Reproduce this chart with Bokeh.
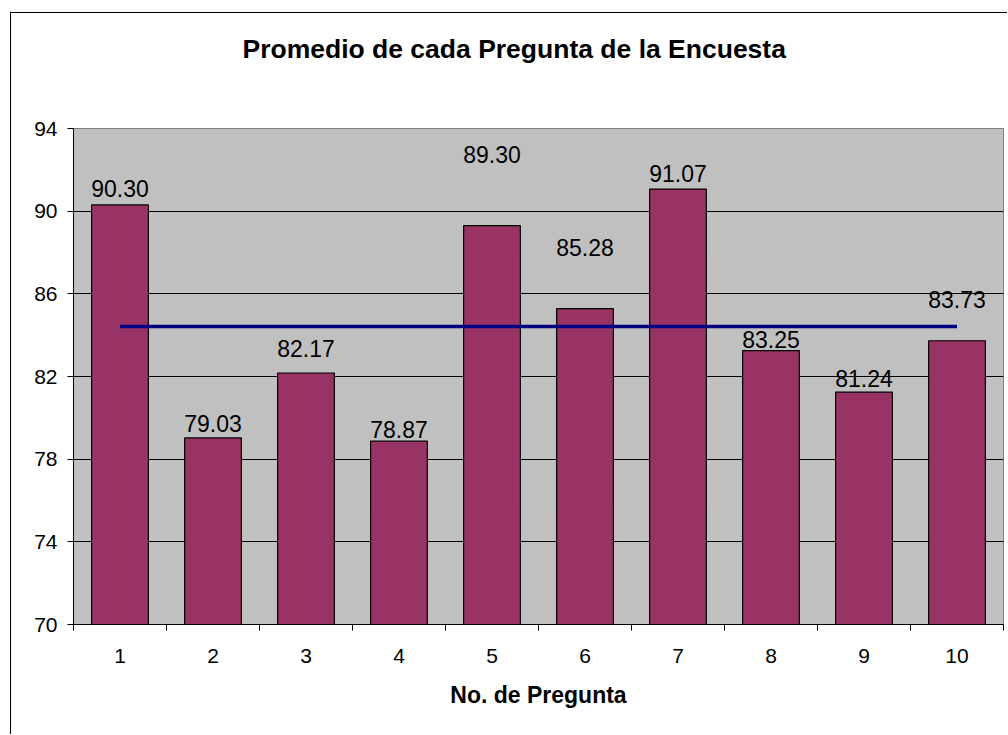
from bokeh.plotting import figure
from bokeh.models import ColumnDataSource, FixedTicker, Range1d, LinearAxis
from bokeh.embed import file_html
from bokeh.resources import INLINE
from bokeh.core.properties import value

# ---- data ----
preguntas = [1, 2, 3, 4, 5, 6, 7, 8, 9, 10]
promedios = [90.30, 79.03, 82.17, 78.87, 89.30, 85.28, 91.07, 83.25, 81.24, 83.73]
promedio_general = 84.42
y_ticks = [70, 74, 78, 82, 86, 90, 94]

titulo = "Promedio de cada Pregunta de la Encuesta"
eje_x = "No. de Pregunta"

# ---- style: pixel offsets of the value labels (moved by hand in the original) ----
label_offsets = [-16, -14, -24, -12, -71, -61, -16, -11, -14, -41]

FONT = "Liberation Sans"

src = ColumnDataSource(dict(
    x=preguntas,
    y=promedios,
    lbl=["%.2f" % v for v in promedios],
    yoff=label_offsets,
))

p = figure(
    width=997, height=722,
    x_range=Range1d(0.5, 10.5), y_range=Range1d(70, 94),
    output_backend="svg", toolbar_location=None, tools="",
    min_border_left=62, min_border_right=5, min_border_top=115, min_border_bottom=111,
)
p.styles = {"margin-left": "10px", "margin-top": "12px",
            "border-left": "1px solid black", "border-top": "1px solid black"}

p.background_fill_color = "#C0C0C0"
p.border_fill_color = "white"
p.outline_line_color = "#808080"
p.outline_line_width = 1

# invisible spacer between the frame and the title
spacer = LinearAxis(ticker=FixedTicker(ticks=[preguntas[4]]), axis_line_color=None,
                    major_tick_out=65, major_tick_in=0, major_tick_line_color=None,
                    minor_tick_out=0, minor_tick_in=0, minor_tick_line_color=None,
                    major_label_overrides={preguntas[4]: ""},
                    major_label_standoff=0)
p.add_layout(spacer, "above")

# title
p.title.text = titulo
p.title.text_font = FONT
p.title.text_font_size = "26.5px"
p.title.text_font_style = "bold"
p.title.text_color = "black"
p.title.align = "left"
p.title.offset = 169
p.title.standoff = 0

# grid
p.xgrid.visible = False
p.ygrid.ticker = FixedTicker(ticks=y_ticks[1:-1])
p.ygrid.grid_line_color = "black"
p.ygrid.grid_line_width = 1

# bars
p.vbar(x="x", top="y", bottom=70, width=0.61, source=src,
       fill_color="#993366", line_color="black", line_width=1.2)

# average line
p.line(x=[preguntas[0], preguntas[-1]], y=[promedio_general, promedio_general],
       line_color="#000080", line_width=3.5)

# value labels
p.text(x="x", y="y", text="lbl", y_offset="yoff", source=src,
       text_font=value(FONT), text_font_size="23px", text_color="black",
       text_align="center", text_baseline="alphabetic")

# x axis
xa = p.below[0]
xa.ticker = FixedTicker(ticks=preguntas,
                        minor_ticks=[q - 0.5 for q in preguntas] + [preguntas[-1] + 0.5])
xa.major_tick_out = 0
xa.major_tick_in = 0
xa.minor_tick_out = 6
xa.minor_tick_in = 0
xa.minor_tick_line_color = "black"
xa.axis_line_color = "black"
xa.major_label_text_font = FONT
xa.major_label_text_font_size = "21px"
xa.major_label_text_color = "black"
xa.major_label_standoff = 18
xa.axis_label = eje_x
xa.axis_label_text_font = FONT
xa.axis_label_text_font_size = "23px"
xa.axis_label_text_font_style = "bold"
xa.axis_label_text_color = "black"
xa.axis_label_standoff = 16

# y axis
ya = p.left[0]
ya.ticker = FixedTicker(ticks=y_ticks)
ya.major_tick_out = 6
ya.major_tick_in = 0
ya.minor_tick_line_color = None
ya.axis_line_color = "black"
ya.major_tick_line_color = "black"
ya.major_label_text_font = FONT
ya.major_label_text_font_size = "21px"
ya.major_label_text_color = "black"
ya.major_label_standoff = 10

open("out.html", "w").write(file_html(p, INLINE))
